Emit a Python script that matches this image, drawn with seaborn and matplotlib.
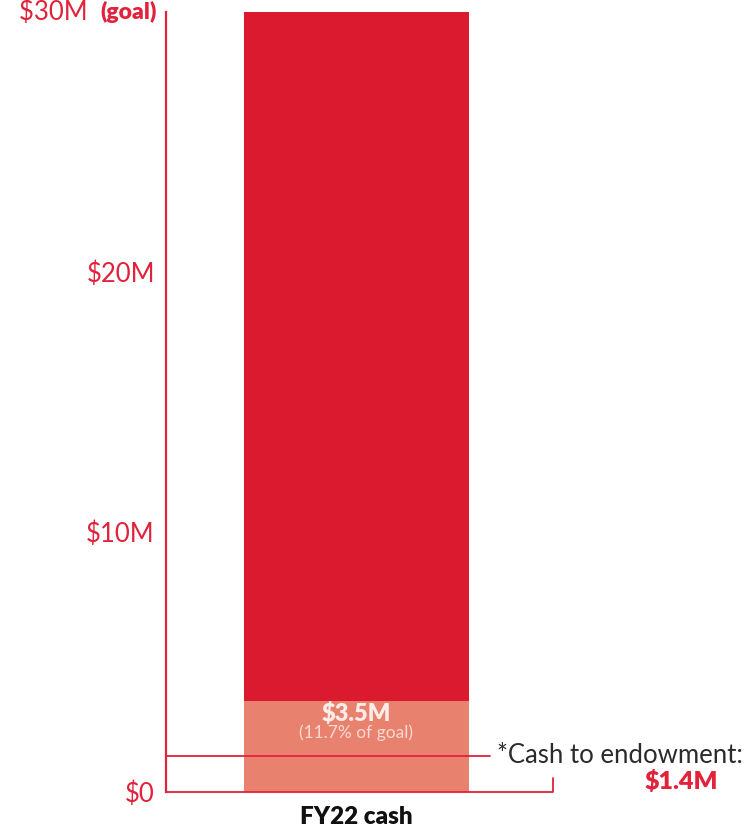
import matplotlib
matplotlib.use("Agg")
import matplotlib.pyplot as plt
import seaborn as sns
import pandas as pd

categories = ["FY22 cash"]
goal_values = [30.0]
raised_values = [3.5]
endowment_values = [1.4]
pct_of_goal = ["11.7%"]
ytick_values = [0, 10, 20, 30]
ytick_labels = ["$0", "$10M", "$20M", ""]

DARK_RED = "#DC1A2F"
SALMON = "#E8826F"
TICK_RED = "#E1223A"

sns.set_theme(style="white")
plt.rcParams["font.family"] = ["Lato", "DejaVu Sans"]

df = pd.DataFrame({"cat": categories, "goal": goal_values, "raised": raised_values})

fig = plt.figure(figsize=(7.44, 8.31), dpi=100)
ax = fig.add_axes([166/744, 39/831, 1 - 166/744, (792-12)/831])

sns.barplot(data=df, x="cat", y="goal", color=DARK_RED, width=0.8, ax=ax,
            saturation=1, edgecolor="none", linewidth=0)
sns.barplot(data=df, x="cat", y="raised", color=SALMON, width=0.8, ax=ax,
            saturation=1, edgecolor="none", linewidth=0)

ax.set_xlim(-0.677, 1.379)
ax.set_ylim(0, 30)
ax.set_xlabel("")
ax.set_ylabel("")

for s in ["top", "right", "bottom"]:
    ax.spines[s].set_visible(False)
ax.spines["left"].set_color(TICK_RED)
ax.spines["left"].set_linewidth(1.6)

ax.set_yticks(ytick_values)
ax.set_yticklabels(ytick_labels)
ax.tick_params(axis="y", direction="in", length=12, width=1.6, color=TICK_RED,
               labelcolor=TICK_RED, labelsize=18.5, pad=8)
ax.tick_params(axis="x", length=0, labelsize=17.5, labelcolor="#111111", pad=10)
for lab in ax.get_xticklabels():
    lab.set_fontweight("heavy")

# 30M (goal) label
goal_txt = ax.annotate("(goal)", xy=(0, goal_values[0]), xycoords=("axes fraction", "data"),
                       xytext=(-9, 0), textcoords="offset pixels", ha="right", va="center",
                       fontsize=16.5, fontweight="heavy", color=TICK_RED)
ax.annotate("$30M  ", xy=(0, 0.5), xycoords=goal_txt, ha="right", va="center",
            fontsize=18.5, color=TICK_RED)

# raised labels
ax.text(0, raised_values[0] - 0.48, f"${raised_values[0]}M", ha="center", va="center",
        fontsize=17, fontweight="heavy", color="#FCECE8")
ax.text(0, raised_values[0] - 1.22, f"({pct_of_goal[0]} of goal)", ha="center", va="center",
        fontsize=12.5, color="#F9D9D0")

# endowment line and text
e = endowment_values[0]
ax.plot([-0.677, 0.475], [e, e], color=TICK_RED, lw=1.3, clip_on=False)
ax.text(0.50, e, "*Cash to endowment:", ha="left", va="center", fontsize=18.5, color="#2B2B2B")
ax.text(1.287, e - 1.015, f"${e}M", ha="right", va="center", fontsize=18, fontweight="heavy",
        color=TICK_RED)

# bracket at bottom
ax.plot([-0.677, 0.70, 0.70], [0, 0, 0.55], color=TICK_RED, lw=1.3, clip_on=False)

fig.savefig("out.png", dpi=100)
